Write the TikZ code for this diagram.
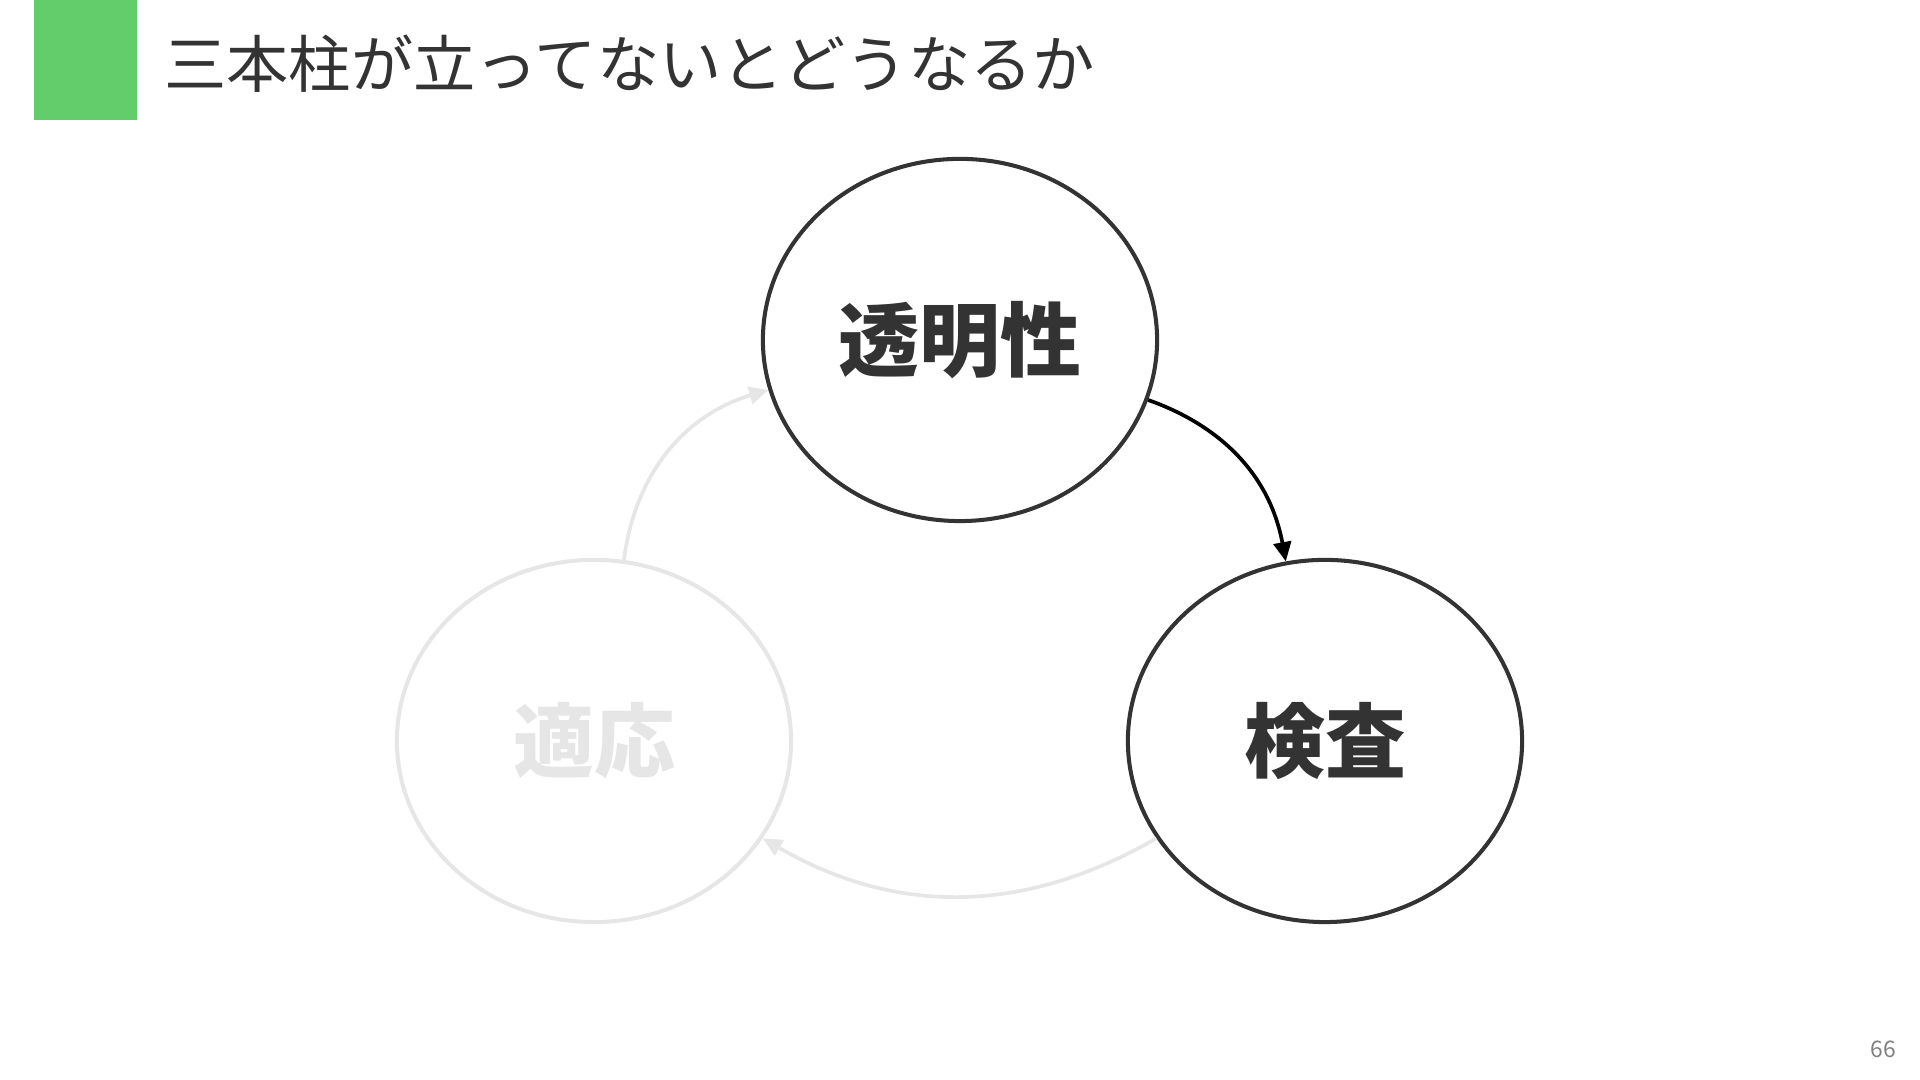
\documentclass[tikz,border=0pt]{standalone}
\usepackage{fontspec}
\setmainfont{Noto Sans CJK JP}
\usepackage{tikz}
\usetikzlibrary{arrows.meta,shapes.geometric}
\definecolor{barGreen}{RGB}{99,205,108}
\definecolor{inkGray}{RGB}{51,51,51}
\definecolor{fadeGray}{RGB}{230,230,230}

\begin{document}
\begin{tikzpicture}[x=0.01cm, y=0.01cm,
  pillar/.style={ellipse, draw=inkGray, line width=1.15pt, minimum width=3.94cm, minimum height=3.62cm,
                 inner sep=0pt, font=\fontsize{23pt}{26pt}\selectfont\bfseries, text=inkGray},
  faded/.style={draw=fadeGray, text=fadeGray},
  flow/.style={-{Triangle[length=5.5pt, width=5pt]}, line width=1.05pt},
]
  % Page frame
  \useasboundingbox (0,0) rectangle (1920,1080);
  \fill[barGreen] (34,960) rectangle (137,1080);
  \node[anchor=west, text=inkGray, font=\fontsize{17.7pt}{20pt}\selectfont] (title) at (152,1016)
    {三本柱が立ってないとどうなるか};

  % Pillars
  \node[pillar] (clarity) at (960,740) {透明性};
  \node[pillar] (check) at (1325,339) {検査};
  \node[pillar, faded] (adapt) at (594,339) {適応};

  % Cycle
  \draw[flow, black] (clarity) to[bend left=30] (check);
  \draw[flow, fadeGray] (check) to[bend left=30] (adapt);
  \draw[flow, fadeGray] (adapt) to[bend left=33] (clarity);

  \node[text=gray, font=\fontsize{6.5pt}{8pt}\selectfont] (page) at (1883,31) {66};
\end{tikzpicture}
\end{document}
